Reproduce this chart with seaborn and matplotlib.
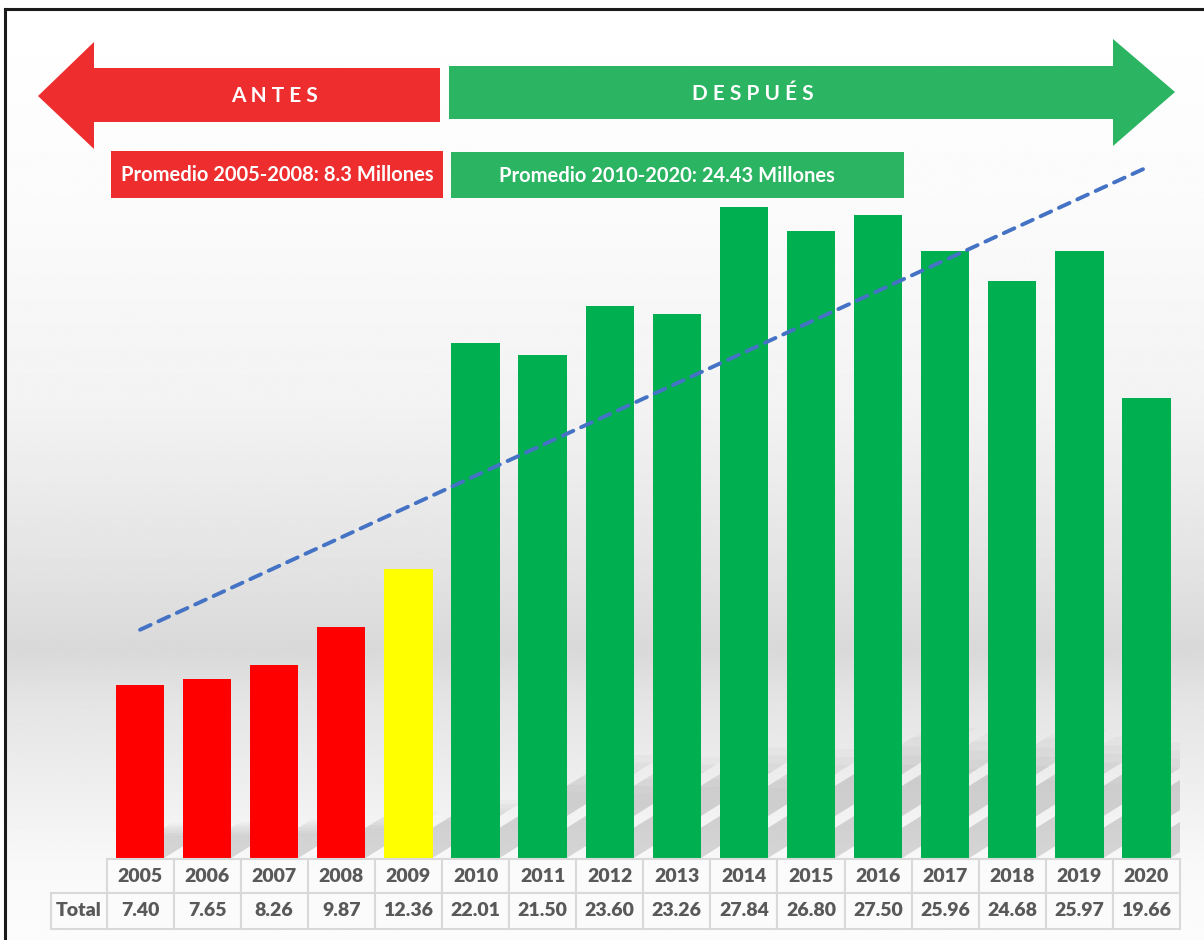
"""
Antes / Después bar chart with trend line and data table (2005-2020).
"""

import numpy as np
import matplotlib
matplotlib.use("Agg")          # headless backend
import matplotlib.pyplot as plt
import matplotlib.transforms as mtransforms
from matplotlib.patches import Polygon, Rectangle
import seaborn as sns

# ── Data ──────────────────────────────────────────────────────────────────
YEARS  = ["2005", "2006", "2007", "2008", "2009", "2010", "2011", "2012",
          "2013", "2014", "2015", "2016", "2017", "2018", "2019", "2020"]
TOTALS = [7.40, 7.65, 8.26, 9.87, 12.36, 22.01, 21.50, 23.60,
          23.26, 27.84, 26.80, 27.50, 25.96, 24.68, 25.97, 19.66]
ROW_LABEL = "Total"
BEFORE_YEARS = ["2005", "2006", "2007", "2008"]
AFTER_YEARS  = ["2010", "2011", "2012", "2013", "2014", "2015",
                "2016", "2017", "2018", "2019", "2020"]

# ── Styles ────────────────────────────────────────────────────────────────
RED, YELLOW, GREEN = "#FF0000", "#FFFF00", "#00B050"
BAR_COLORS = [RED] * 4 + [YELLOW] + [GREEN] * 11
ARROW_RED, ARROW_GREEN = "#EE2D2F", "#2BB461"
TREND = "#4472C4"
TXT_GREY = "#595959"

sns.set_style("white")
plt.rcParams["font.family"] = ["Lato", "DejaVu Sans"]

W, H = 1204, 940
fig = plt.figure(figsize=(W / 100, H / 100), dpi=100)

# ── Background gradient (pixel coords) ────────────────────────────────────
bg = fig.add_axes([0, 0, 1, 1], zorder=0)
bg.set_xlim(0, W); bg.set_ylim(H, 0); bg.axis("off")
ys = np.linspace(9, H, 500)
levels = np.interp(ys, [9, 200, 400, 560, 650, 700, 800, 860, 940],
                   [255, 251, 243, 228, 217, 228, 240, 248, 252]) / 255
bg.imshow(np.tile(levels[:, None], (1, 2)), cmap="gray", vmin=0, vmax=1,
          extent=(5, W, H, 9), aspect="auto", interpolation="bilinear")

# ── Main chart ────────────────────────────────────────────────────────────
BASE_PX, PX_PER_UNIT = 858, 23.38
ax = fig.add_axes([106.5 / W, (H - BASE_PX) / H, 1073.5 / W, BASE_PX / H], zorder=1)
ax.patch.set_alpha(0)

# perspective shadows cast by the bars (up and to the right)
bw = 0.72
px_per_x = 1073.5 / len(YEARS)
for i, v in enumerate(TOTALS):
    sh = 0.2 * v
    s = 1.6 * PX_PER_UNIT / px_per_x          # x-shift per y-unit
    n = 14
    for k in range(n):
        y0, y1 = sh * k / n, sh * (k + 1) / n
        t = k / n
        a = 0.14 * min(1.0, (1 - t) / 0.4)
        xl, xr = i - bw / 2, i + bw / 2
        ax.add_patch(Polygon([(xl + s * y0, y0), (xr + s * y0, y0),
                              (xr + s * y1, y1), (xl + s * y1, y1)],
                             closed=True, fc="black", ec="none", alpha=a, zorder=1))

sns.barplot(x=YEARS, y=TOTALS, hue=YEARS, palette=BAR_COLORS, width=bw,
            saturation=1, linewidth=0, legend=False, ax=ax, zorder=3)

sns.regplot(x=np.arange(len(TOTALS)), y=np.array(TOTALS), scatter=False, ci=None,
            truncate=True, ax=ax,
            line_kws=dict(color=TREND, lw=2.8, linestyle=(0, (3, 2.2)),
                          dash_capstyle="round", zorder=4))

ax.set_xlim(-0.5, len(YEARS) - 0.5)
ax.set_ylim(0, BASE_PX / PX_PER_UNIT)
ax.axis("off")

# ── Overlay: arrows, labels, table, frame (pixel coords) ──────────────────
ov = fig.add_axes([0, 0, 1, 1], zorder=2)
ov.set_xlim(0, W); ov.set_ylim(H, 0); ov.axis("off"); ov.patch.set_alpha(0)

ov.add_patch(Polygon([(38, 96), (94, 42), (94, 68), (440, 68), (440, 122),
                      (94, 122), (94, 149)], closed=True, fc=ARROW_RED, ec="none"))
ov.add_patch(Polygon([(449, 66), (1113, 66), (1113, 39), (1175, 92),
                      (1113, 146), (1113, 119), (449, 119)],
                     closed=True, fc=ARROW_GREEN, ec="none"))
ov.text(274, 96, " ".join("ANTES"), color="white", fontsize=15,
        fontweight="bold", ha="center", va="center")
ov.text(753, 94, " ".join("DESPUÉS"), color="white", fontsize=15,
        fontweight="bold", ha="center", va="center")

avg_before = np.mean([TOTALS[YEARS.index(y)] for y in BEFORE_YEARS])
avg_after = np.mean([TOTALS[YEARS.index(y)] for y in AFTER_YEARS])
ov.add_patch(Rectangle((111, 151), 332, 47, fc=ARROW_RED, ec="none"))
ov.add_patch(Rectangle((451, 152), 453, 46, fc=ARROW_GREEN, ec="none"))
ov.text(277, 175, f"Promedio {BEFORE_YEARS[0]}-{BEFORE_YEARS[-1]}: {avg_before:.1f} Millones",
        color="white", fontsize=14.5, fontweight="bold", ha="center", va="center")
ov.text(667, 176, f"Promedio {AFTER_YEARS[0]}-{AFTER_YEARS[-1]}: {avg_after:.2f} Millones",
        color="white", fontsize=14.5, fontweight="bold", ha="center", va="center")

# data table under the bars
blend = mtransforms.blended_transform_factory(ax.transData, ov.transData)
cell_kw = dict(fc="#FBFBFB", ec="#D9D9D9", lw=1.5)
txt_kw = dict(color=TXT_GREY, fontsize=14, fontweight="heavy",
              ha="center", va="center")
for i, (yr, v) in enumerate(zip(YEARS, TOTALS)):
    ov.add_patch(Rectangle((i - 0.5, 859), 1, 34, transform=blend, **cell_kw))
    ov.add_patch(Rectangle((i - 0.5, 893), 1, 36, transform=blend, **cell_kw))
    ov.text(i, 876, yr, transform=blend, **txt_kw)
    ov.text(i, 911, f"{v:.2f}", transform=blend, **txt_kw)
ov.add_patch(Rectangle((51, 893), 55.5, 36, **cell_kw))
ov.text(78.5, 911, ROW_LABEL, **txt_kw)

# outer frame (left and top edges visible)
ov.plot([5, 5], [9, H], color="#1A1A1A", lw=2.2, solid_capstyle="projecting")
ov.plot([5, W], [9, 9], color="#1A1A1A", lw=2.2, solid_capstyle="projecting")

fig.savefig("out.png", dpi=100)
plt.close(fig)
